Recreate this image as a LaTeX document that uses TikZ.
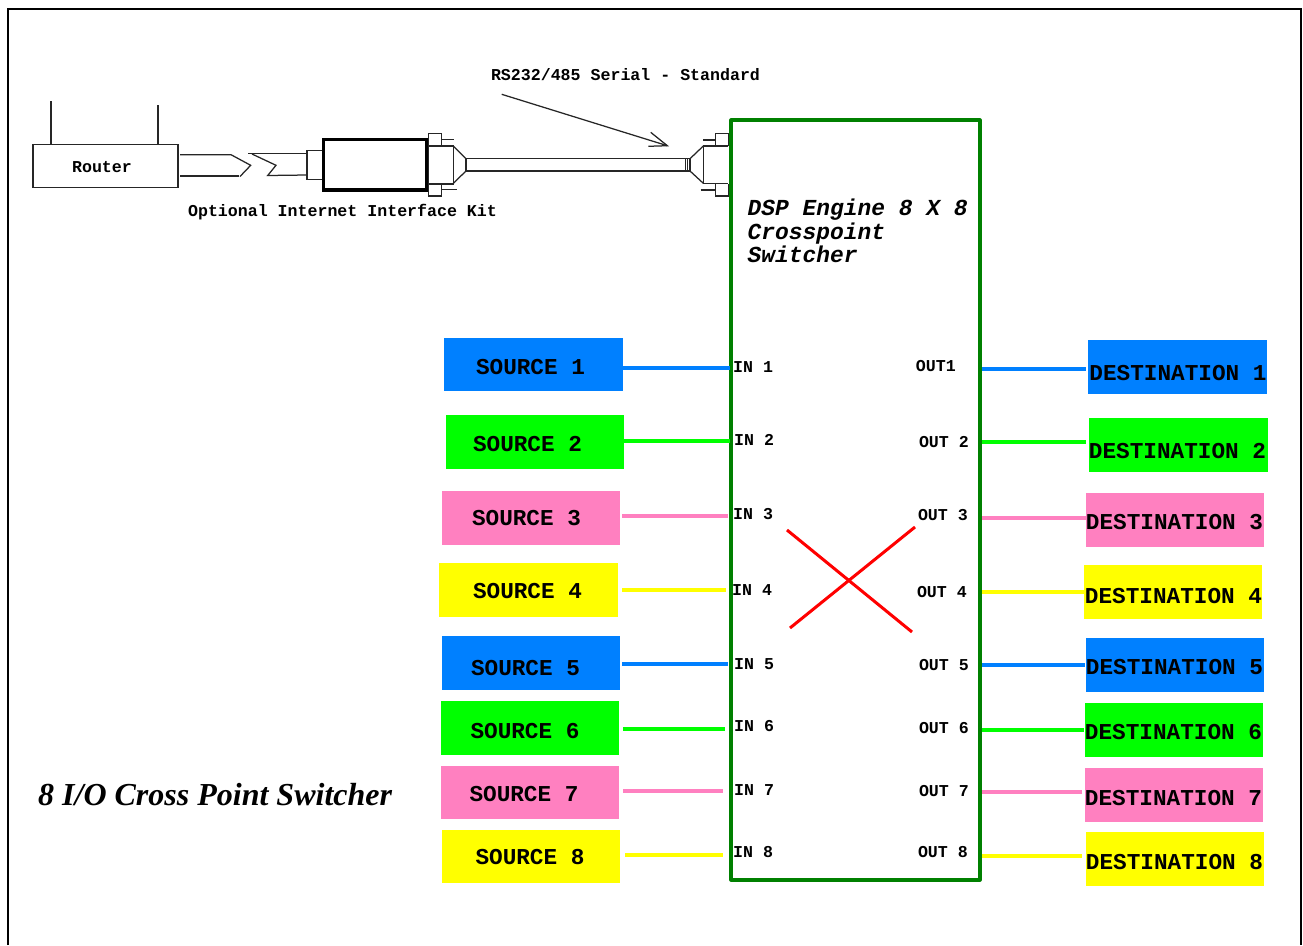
\documentclass[tikz,border=0pt]{standalone}
\usepackage{fontspec}
\setmainfont{Liberation Serif}
\setmonofont{Liberation Mono}
\definecolor{cblue}{RGB}{0,128,255}
\definecolor{cgreen}{RGB}{0,255,0}
\definecolor{cpink}{RGB}{255,128,192}
\definecolor{cyellow}{RGB}{255,255,0}
\definecolor{dgreen}{RGB}{0,128,0}
\tikzset{
  lbox/.style={fill=#1,draw=none,inner sep=0pt,minimum width=178.5pt,minimum height=53.5pt},
  bigtext/.style={font=\ttfamily\bfseries\fontsize{22.7}{24}\selectfont,inner sep=0pt},
  smalltext/.style={font=\ttfamily\bfseries\fontsize{16.6}{18}\selectfont,inner sep=0pt},
  iolabel/.style={font=\ttfamily\bfseries\fontsize{16.6}{18}\selectfont,inner sep=0pt},
  wire/.style={line width=3.4pt,draw=#1},
  hw/.style={line width=1.25pt,draw=black!85},
  engine/.style={draw=dgreen,line width=3.2pt,line join=round,inner sep=0pt,minimum width=249pt,minimum height=760pt},
}
\begin{document}
\begin{tikzpicture}[x=1pt,y=-1pt]
\useasboundingbox (0,0) rectangle (1303,945);
\fill[white] (0,0) rectangle (1303,945);
\coordinate (fbl) at (8,945); \coordinate (ftl) at (8,9);
\coordinate (ftr) at (1301,9); \coordinate (fbr) at (1301,945);
\draw[line width=2.5pt,line join=miter] (fbl) -- (ftl) -- (ftr) -- (fbr);

\node[engine] (E) at (855.5,500) {};

% sources
\foreach \n/\cx/\cy/\col/\tx/\ty/\lx/\ly/\ex/\ly in {%
 1/533.5/364.5/cblue/530.5/367/623/368/730/368,
 2/535/442/cgreen/527.5/444/624/441/730/441,
 3/531/518/cpink/526.5/518/622/516/728/516,
 4/528.5/590/cyellow/527.5/591/622/590/726/590,
 5/531/663/cblue/525.5/668/622/664/728/664,
 6/530/728/cgreen/525/731/623/729/725/729,
 7/530/792.5/cpink/524/794/623/791/723/791,
 8/531/856.5/cyellow/530/857/625/855/723/855}{
  \node[lbox=\col] (S\n) at (\cx,\cy) {};
  \node[bigtext] (St\n) at (\tx,\ty) {SOURCE \n};
  \coordinate (Sa\n) at (\lx,\ly);
  \coordinate (Sb\n) at (\ex,\ly);
  \draw[wire=\col] (Sa\n) -- (Sb\n);
}
% destinations
\foreach \n/\cx/\cy/\col/\tx/\ty/\ex/\ly in {%
 1/1177.5/367/cblue/1178/373/1086/369,
 2/1178.5/445/cgreen/1177.5/451/1086/442,
 3/1175/520/cpink/1174.5/522/1086/518,
 4/1173/592/cyellow/1173.5/596/1084/592,
 5/1175/665/cblue/1174.5/667/1085/665,
 6/1174/730/cgreen/1173.5/732/1084/730,
 7/1174/795/cpink/1173.5/798/1082/792,
 8/1175/859/cyellow/1174.5/862/1082/856}{
  \node[lbox=\col] (D\n) at (\cx,\cy) {};
  \node[bigtext] (Dt\n) at (\tx,\ty) {DESTINATION \n};
  \coordinate (Da\n) at (982,\ly);
  \coordinate (Db\n) at (\ex,\ly);
  \draw[wire=\col] (Da\n) -- (Db\n);
}
% IO labels
\foreach \n/\x/\y in {1/733/367,2/734/440,3/733/514,4/732/590,5/734/664,6/734/726,7/734/790,8/733/852}{
  \node[iolabel,anchor=west] (I\n) at (\x,\y) {IN \n};
}
\node[iolabel,anchor=east] (O1) at (956,366) {OUT1};
\foreach \n/\x/\y in {2/969/442,3/968/515,4/967/592,5/969/665,6/969/728,7/969/791,8/968/852}{
  \node[iolabel,anchor=east] (O\n) at (\x,\y) {OUT \n};
}
% engine title
\node[bigtext,font=\ttfamily\bfseries\itshape\fontsize{22.9}{23.6}\selectfont,align=left,anchor=north west] (T) at (747.5,199) {DSP Engine 8 X 8\\Crosspoint\\Switcher};
% red cross
\coordinate (x1) at (787,530); \coordinate (x2) at (912,632);
\coordinate (x3) at (790,628); \coordinate (x4) at (915,527);
\draw[red,line width=3pt] (x1) -- (x2);
\draw[red,line width=3pt] (x3) -- (x4);
% title
\node[inner sep=0pt,anchor=west,font=\rmfamily\bfseries\itshape\fontsize{32}{36}\selectfont] (Big) at (38,795) {8 I/O Cross Point Switcher};

% router
\node[draw=black!85,line width=1.25pt,inner sep=0pt,minimum width=145pt,minimum height=42.5pt] (R) at (105.5,166) {};
\node[smalltext] (Rt) at (102,167.5) {Router};
\coordinate (a1) at (51,101); \coordinate (a2) at (158,105);
\draw[hw] (a1) -- (a1 |- R.north);
\draw[hw] (a2) -- (a2 |- R.north);
% broken cable
\draw[hw] (180,154.7) -- (231,154.7) -- (250.7,165.3) -- (240,176.5);
\draw[hw] (180,176) -- (239,176);
\draw[hw] (248,153.5) -- (307,153.5);
\draw[hw] (252,154) -- (276,165.3) -- (267.7,175.5) -- (307,175);
% interface kit
\node[draw=black!85,line width=1.25pt,inner sep=0pt,minimum width=16pt,minimum height=28.5pt] (K0) at (315,165) {};
\node[draw=black,line width=3.5pt,inner sep=0pt,minimum width=103.5pt,minimum height=50.5pt] (K) at (375.3,164.7) {};
% left D connector
\draw[hw] (428.3,146) rectangle (453.3,184);
\draw[hw] (428.3,133.3) rectangle (441.7,146);
\draw[hw] (428.3,184) rectangle (441.7,196);
\draw[hw] (441.7,139.7) -- (454,139.7);
\draw[hw] (441.7,189.7) -- (456.7,189.7);
\draw[hw] (453.3,146) -- (466,158.7);
\draw[hw] (453.3,183.3) -- (466,171);
% cable
\draw[hw] (466,158.7) rectangle (690,171);
\draw[line width=1.8pt,draw=black!85] (466,158.7) -- (466,171);
\draw[hw] (685.3,158.7) -- (685.3,171);
\draw[hw] (687.3,158.7) -- (687.3,171);
% right D connector
\draw[hw] (690,158.7) -- (703.3,146);
\draw[hw] (690,171) -- (703.3,183.3);
\draw[hw] (728.3,146) -- (703.3,146) -- (703.3,183.5) -- (728.3,183.5);
\draw[hw] (728.3,146) -- (728.3,133.7) -- (715.7,133.7) -- (715.7,146);
\draw[hw] (728.3,184) -- (728.3,196) -- (715.7,196) -- (715.7,184);
\draw[hw] (703.3,140) -- (715.7,140);
\draw[hw] (700.7,190) -- (715.7,190);
% labels
\node[smalltext] (Rs) at (625.5,75) {RS232/485 Serial - Standard};
\node[smalltext] (Op) at (342.5,212) {Optional Internet Interface Kit};
\coordinate (ar1) at (501.7,94.3); \coordinate (ar2) at (667.3,145.7);
\coordinate (ah1) at (650.7,132.3); \coordinate (ah2) at (648.3,146.3);
\draw[hw] (ar1) -- (ar2);
\draw[hw] (ah1) -- (ar2) -- (ah2);
\end{tikzpicture}
\end{document}
